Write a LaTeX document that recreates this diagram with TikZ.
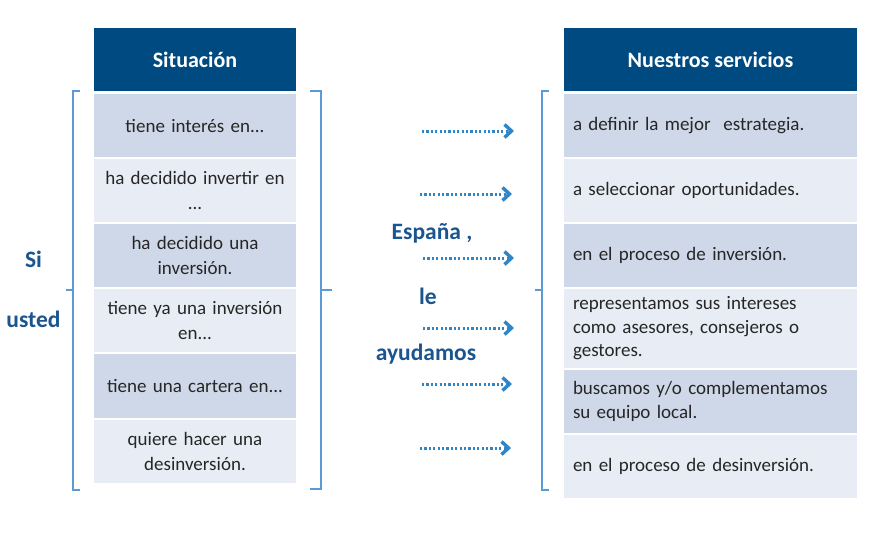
\documentclass[tikz,border=0pt]{standalone}
\usepackage{fontspec}
\setmainfont{Carlito}
\usetikzlibrary{arrows.meta}
\definecolor{hdr}{HTML}{004A82}
\definecolor{rowd}{HTML}{CFD8E8}
\definecolor{rowl}{HTML}{E8EDF5}
\definecolor{brc}{HTML}{5A9BD5}
\definecolor{arc}{HTML}{2E86C8}
\definecolor{lbl}{HTML}{1A5590}
\definecolor{txt}{HTML}{262626}
\begin{document}
\begin{tikzpicture}[x=1pt,y=-1pt,
  hdrbox/.style={fill=hdr,text=white,inner sep=0pt,font=\fontsize{22}{24}\selectfont\bfseries,align=center},
  lcell/.style={inner sep=0pt,minimum width=202pt,text width=196pt,align=center,text=txt,font=\fontsize{19}{25}\selectfont},
  rcell/.style={inner sep=0pt,minimum width=293pt,text width=275pt,align=left,text=txt,font=\fontsize{19}{23.5}\selectfont},
  brace/.style={draw=brc,line width=1.4pt},
  arr/.style={draw=arc,line width=3pt,dash pattern=on 2.2pt off 2.2pt,-{Straight Barb[length=7pt,width=13pt,line width=3.4pt]}},
  side/.style={text=lbl,font=\fontsize{23.5}{26}\selectfont\bfseries,inner sep=0pt}]
\useasboundingbox (0,0) rectangle (872,539);
% left table
\node[hdrbox,minimum width=202pt,minimum height=63pt] (h1) at (195,59.5) {Situación};
\node[lcell,fill=rowd,minimum height=63pt] (l1) at (195,125.5) {tiene interés en...};
\node[lcell,fill=rowl,minimum height=63pt] (l2) at (195,190.5) {ha decidido invertir en\\...};
\node[lcell,fill=rowd,minimum height=63pt] (l3) at (195,255.5) {ha decidido una\\inversión.};
\node[lcell,fill=rowl,minimum height=63pt] (l4) at (195,320.5) {tiene ya una inversión\\en...};
\node[lcell,fill=rowd,minimum height=64pt] (l5) at (195,386) {tiene una cartera en...};
\node[lcell,fill=rowl,minimum height=63pt] (l6) at (195,451.5) {quiere hacer una\\desinversión.};
% right table
\node[hdrbox,minimum width=293pt,minimum height=63pt] (h2) at (710.5,59.5) {Nuestros servicios};
\node[rcell,fill=rowd,minimum height=63pt] (r1) at (710.5,125.5) {a definir la mejor\ \ estrategia.};
\node[rcell,fill=rowl,minimum height=63pt] (r2) at (710.5,190.5) {a seleccionar oportunidades.};
\node[rcell,fill=rowd,minimum height=63pt] (r3) at (710.5,255.5) {en el proceso de inversión.};
\node[rcell,fill=rowl,minimum height=79pt] (r4) at (710.5,328.5) {representamos sus intereses\\como asesores, consejeros o\\gestores.};
\node[rcell,fill=rowd,minimum height=63pt] (r5) at (710.5,401.5) {buscamos y/o complementamos\\su equipo local.};
\node[rcell,fill=rowl,minimum height=63pt] (r6) at (710.5,466.5) {en el proceso de desinversión.};
% braces
\draw[brace] (80,91) -- (73,91) -- (73,490) -- (80,490);
\draw[brace] (73,290) -- (66,290);
\draw[brace] (310,91) -- (321,91) -- (321,489) -- (310,489);
\draw[brace] (321,290) -- (332,290);
\draw[brace] (549,91) -- (542,91) -- (542,490) -- (549,490);
\draw[brace] (542,290) -- (535,290);
% side labels
\node[side] (si) at (33.5,259) {Si};
\node[side] (us) at (33.5,319) {usted};
\node[side] (es) at (432,233) {España ,};
\node[side] (le) at (428,296) {le};
\node[side] (ay) at (426,354) {ayudamos};
% arrows
\coordinate (a1s) at (422,131); \coordinate (a1e) at (514,131);
\coordinate (a2s) at (420,194); \coordinate (a2e) at (512,194);
\coordinate (a3s) at (423,258); \coordinate (a3e) at (514,258);
\coordinate (a4s) at (423,328); \coordinate (a4e) at (514,328);
\coordinate (a5s) at (422,384); \coordinate (a5e) at (512,384);
\coordinate (a6s) at (420,448); \coordinate (a6e) at (511,448);
\foreach \i in {1,...,6} {\draw[arr] (a\i s) -- (a\i e);}
\end{tikzpicture}
\end{document}
